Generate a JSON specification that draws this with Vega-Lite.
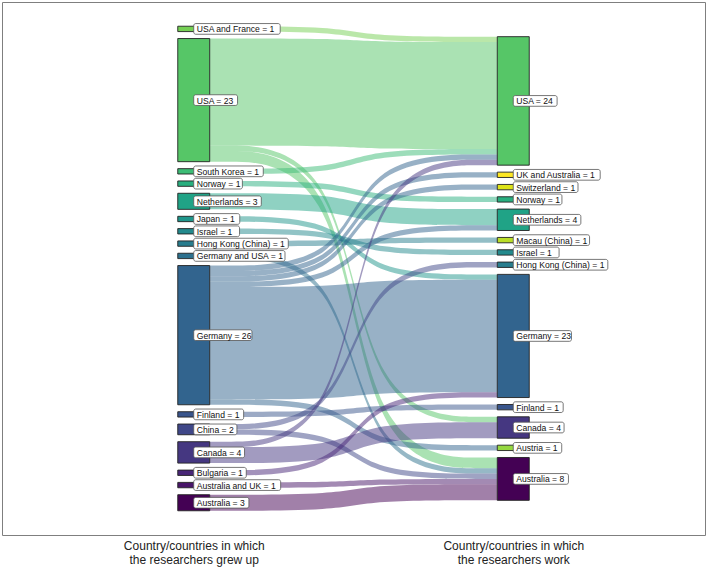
{
  "$schema": "https://vega.github.io/schema/vega-lite/v6.json",
  "width": 703,
  "height": 533,
  "autosize": {"type": "none"},
  "padding": {"left": 2, "top": 2, "right": 3, "bottom": 32},
  "background": "white",
  "config": {
    "view": {"stroke": "#7f7f7f", "strokeWidth": 1},
    "font": "Liberation Sans",
    "axisX": {
      "labelExpr": "datum.value == 1 ? ['Country/countries in which', 'the researchers grew up'] : ['Country/countries in which', 'the researchers work']",
      "ticks": false, "domain": false, "grid": false, "title": null,
      "labelFont": "Liberation Sans", "labelFontSize": 12, "labelColor": "#222222",
      "labelPadding": 5, "labelLineHeight": 14,
      "labelOverlap": false, "labelFlush": false, "labelBound": false
    }
  },
  "data": {
    "values": [
      {"from": "USA and France", "to": "USA", "n": 1},
      {"from": "USA", "to": "USA", "n": 20},
      {"from": "USA", "to": "Canada", "n": 1},
      {"from": "USA", "to": "Australia", "n": 2},
      {"from": "South Korea", "to": "USA", "n": 1},
      {"from": "Norway", "to": "Norway", "n": 1},
      {"from": "Netherlands", "to": "Netherlands", "n": 3},
      {"from": "Japan", "to": "Germany", "n": 1},
      {"from": "Israel", "to": "Israel", "n": 1},
      {"from": "Hong Kong (China)", "to": "Macau (China)", "n": 1},
      {"from": "Germany and USA", "to": "Australia", "n": 1},
      {"from": "Germany", "to": "USA", "n": 1},
      {"from": "Germany", "to": "UK and Australia", "n": 1},
      {"from": "Germany", "to": "Switzerland", "n": 1},
      {"from": "Germany", "to": "Netherlands", "n": 1},
      {"from": "Germany", "to": "Germany", "n": 21},
      {"from": "Germany", "to": "Austria", "n": 1},
      {"from": "Finland", "to": "Finland", "n": 1},
      {"from": "China", "to": "Hong Kong (China)", "n": 1},
      {"from": "China", "to": "Australia", "n": 1},
      {"from": "Canada", "to": "USA", "n": 1},
      {"from": "Canada", "to": "Canada", "n": 3},
      {"from": "Bulgaria", "to": "Germany", "n": 1},
      {"from": "Australia and UK", "to": "Australia", "n": 1},
      {"from": "Australia", "to": "Australia", "n": 3}
    ]
  },
  "transform": [
    {"joinaggregate": [{"op": "sum", "field": "n", "as": "total"}]},
    {"joinaggregate": [{"op": "sum", "field": "n", "as": "fromSize"}], "groupby": ["from"]},
    {"joinaggregate": [{"op": "sum", "field": "n", "as": "toSize"}], "groupby": ["to"]},
    {"joinaggregate": [
      {"op": "max", "field": "fromSize", "as": "maxFrom"},
      {"op": "max", "field": "toSize", "as": "maxTo"}
    ]},
    {"calculate": "0.05 * max(datum.maxFrom, datum.maxTo)", "as": "gap"},
    {"window": [{"op": "dense_rank", "as": "fromRank"}], "sort": [{"field": "from", "order": "descending"}]},
    {"window": [{"op": "dense_rank", "as": "toRank"}], "sort": [{"field": "to", "order": "descending"}]},
    {"joinaggregate": [
      {"op": "max", "field": "fromRank", "as": "fromCount"},
      {"op": "max", "field": "toRank", "as": "toCount"}
    ]},
    {"window": [{"op": "sum", "field": "n", "as": "fromCum"}],
     "sort": [{"field": "from", "order": "descending"}, {"field": "to", "order": "descending"}]},
    {"window": [{"op": "sum", "field": "n", "as": "toCum"}],
     "sort": [{"field": "to", "order": "descending"}, {"field": "from", "order": "descending"}]},
    {"calculate": "-(datum.total + datum.gap * (datum.fromCount - 1)) / 2 + datum.fromCum - datum.n + datum.gap * (datum.fromRank - 1)", "as": "fromTop"},
    {"calculate": "datum.fromTop + datum.n", "as": "fromBottom"},
    {"calculate": "-(datum.total + datum.gap * (datum.toCount - 1)) / 2 + datum.toCum - datum.n + datum.gap * (datum.toRank - 1)", "as": "toTop"},
    {"calculate": "datum.toTop + datum.n", "as": "toBottom"}
  ],
  "layer": [
    {
      "transform": [
        {"calculate": "[0, 0.45, 0.55, 1]", "as": "f"},
        {"calculate": "[0, 0, 1, 1]", "as": "w"},
        {"flatten": ["f", "w"]},
        {"calculate": "1.05 + 0.9 * datum.f", "as": "px"},
        {"calculate": "datum.fromTop + datum.w * (datum.toTop - datum.fromTop)", "as": "ya"},
        {"calculate": "datum.fromBottom + datum.w * (datum.toBottom - datum.fromBottom)", "as": "yb"},
        {"calculate": "datum.from + ' | ' + datum.to", "as": "flow"}
      ],
      "mark": {"type": "area", "interpolate": "basis", "opacity": 0.5},
      "encoding": {
        "x": {
          "field": "px", "type": "quantitative",
          "scale": {"domain": [0.4, 2.6], "nice": false, "zero": false},
          "axis": {"values": [1, 2]}
        },
        "y": {
          "field": "ya", "type": "quantitative", "stack": null,
          "scale": {"domain": [-49.775, 49.775], "reverse": true, "nice": false, "zero": false},
          "axis": null
        },
        "y2": {"field": "yb"},
        "color": {
          "field": "from", "type": "nominal", "legend": null,
          "scale": {
            "domain": ["Australia", "Australia and UK", "Bulgaria", "Canada", "China", "Finland", "Germany", "Germany and USA", "Hong Kong (China)", "Israel", "Japan", "Netherlands", "Norway", "South Korea", "USA", "USA and France", "Austria", "Macau (China)", "Switzerland", "UK and Australia"],
            "range": ["#440154", "#481568", "#482677", "#453781", "#3F4788", "#39558C", "#32648E", "#2D718E", "#287D8E", "#238A8D", "#1F968B", "#20A386", "#29AF7F", "#3CBC75", "#56C667", "#75D054", "#95D840", "#BADE28", "#DDE318", "#FDE725"]
          }
        },
        "detail": {"field": "flow", "type": "nominal"}
      }
    },
    {
      "transform": [
        {"calculate": "[1, 2]", "as": "side"},
        {"flatten": ["side"]},
        {"calculate": "datum.side == 1 ? datum.from : datum.to", "as": "node"},
        {"calculate": "datum.side == 1 ? datum.fromTop : datum.toTop", "as": "top"},
        {"calculate": "datum.side == 1 ? datum.fromBottom : datum.toBottom", "as": "bottom"},
        {"aggregate": [
          {"op": "min", "field": "top", "as": "top"},
          {"op": "max", "field": "bottom", "as": "bottom"},
          {"op": "sum", "field": "n", "as": "size"}
        ], "groupby": ["side", "node"]},
        {"calculate": "datum.side - 0.05", "as": "left"},
        {"calculate": "datum.side + 0.05", "as": "right"},
        {"calculate": "datum.node + ' = ' + datum.size", "as": "label"},
        {"calculate": "8.6 * (0.556 * length(datum.label) + 0.15 * length(replace(datum.label, regexp('[^A-Z]', 'g'), '')) - 0.33 * length(replace(datum.label, regexp('[^ijl]', 'g'), '')) - 0.25 * length(replace(datum.label, regexp('[^tfr() ]', 'g'), ''))) + 6", "as": "boxWidth"},
        {"calculate": "datum.side + datum.boxWidth / 319.55", "as": "boxRight"},
        {"calculate": "(datum.top + datum.bottom) / 2", "as": "mid"},
        {"calculate": "datum.mid - 1", "as": "boxTop"},
        {"calculate": "datum.mid + 1", "as": "boxBottom"}
      ],
      "layer": [
        {
          "mark": {"type": "rect", "stroke": "#222222", "strokeWidth": 0.9},
          "encoding": {
            "x": {"field": "left", "type": "quantitative", "scale": {"domain": [0.4, 2.6], "nice": false, "zero": false}, "axis": {"values": [1, 2]}},
            "x2": {"field": "right"},
            "y": {"field": "top", "type": "quantitative", "scale": {"domain": [-49.775, 49.775], "reverse": true, "nice": false, "zero": false}, "axis": null},
            "y2": {"field": "bottom"},
            "color": {"field": "node", "type": "nominal", "legend": null}
          }
        },
        {
          "mark": {"type": "rect", "fill": "white", "stroke": "#555555", "strokeWidth": 0.8, "cornerRadius": 2},
          "encoding": {
            "x": {"field": "side", "type": "quantitative", "scale": {"domain": [0.4, 2.6], "nice": false, "zero": false}, "axis": {"values": [1, 2]}},
            "x2": {"field": "boxRight"},
            "y": {"field": "boxTop", "type": "quantitative", "scale": {"domain": [-49.775, 49.775], "reverse": true, "nice": false, "zero": false}, "axis": null},
            "y2": {"field": "boxBottom"}
          }
        },
        {
          "mark": {"type": "text", "align": "left", "baseline": "middle", "dx": 3, "dy": 0.5, "fontSize": 8.6, "font": "Liberation Sans", "color": "#111111"},
          "encoding": {
            "x": {"field": "side", "type": "quantitative", "scale": {"domain": [0.4, 2.6], "nice": false, "zero": false}, "axis": {"values": [1, 2]}},
            "y": {"field": "mid", "type": "quantitative", "scale": {"domain": [-49.775, 49.775], "reverse": true, "nice": false, "zero": false}, "axis": null},
            "text": {"field": "label", "type": "nominal"}
          }
        }
      ]
    }
  ]
}
